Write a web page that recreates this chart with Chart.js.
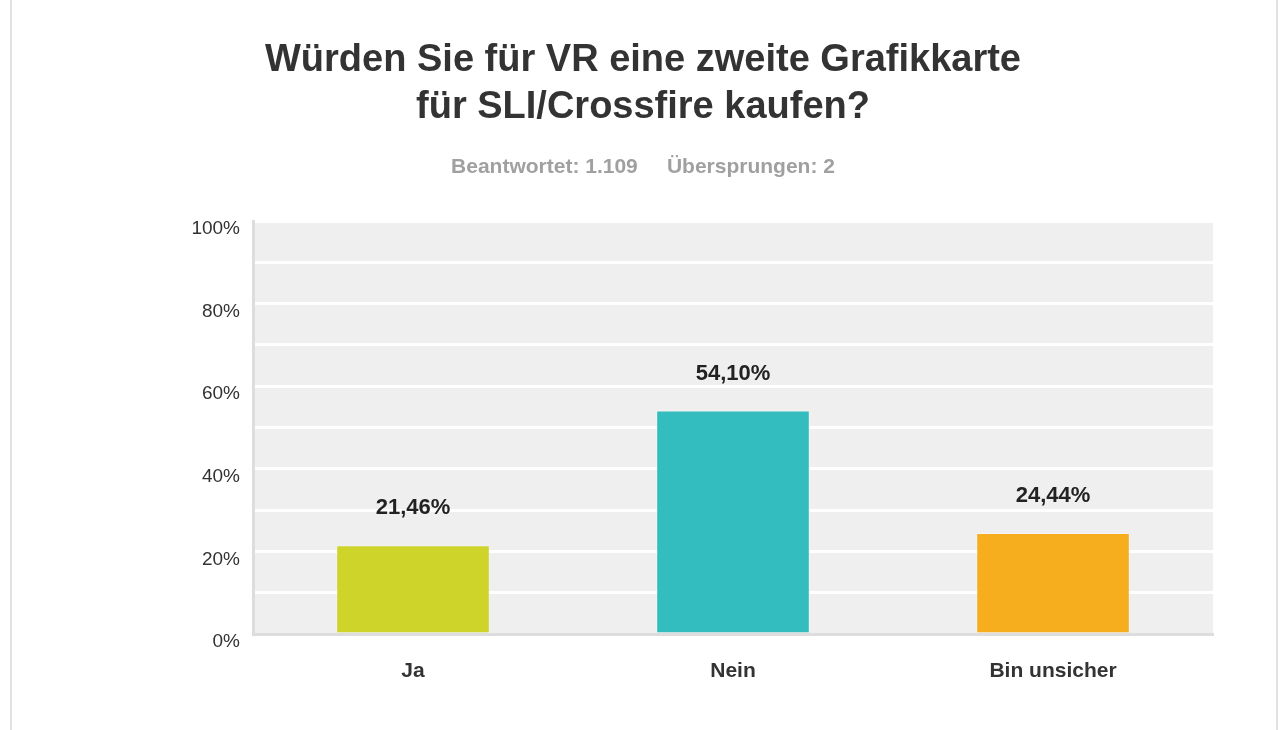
<!DOCTYPE html>
<html>
<head>
<meta charset="utf-8">
<script src="https://cdn.jsdelivr.net/npm/chart.js@4.4.1/dist/chart.umd.min.js"></script>
<style>
    body { margin: 0; background: #fff; }
    #wrap { position: relative; width: 1280px; height: 730px; }
    .edge { position: absolute; top: 0; width: 2px; height: 730px; background: #e2e2e2; }
</style>
</head>
<body>
<div id="wrap">
    <canvas id="umfrageChart" width="1280" height="730"></canvas>
    <div class="edge" style="left:10px"></div>
    <div class="edge" style="left:1276px"></div>
</div>
<script>
// Daten aus der Umfrage
var kategorien = ["Ja", "Nein", "Bin unsicher"];
var prozente = [21.46, 54.10, 24.44];
var farben = ["#CED42A", "#34BDBF", "#F6AE1F"];
var titelZeilen = ["Würden Sie für VR eine zweite Grafikkarte", "für SLI/Crossfire kaufen?"];
var untertitel = "Beantwortet: 1.109     Übersprungen: 2";

var schrift = "'Liberation Sans', Arial, sans-serif";

// grauer Hintergrund der Zeichenfläche
var hintergrundPlugin = {
    id: "hintergrund",
    beforeDraw: function (chart) {
        var a = chart.chartArea;
        var ctx = chart.ctx;
        ctx.save();
        ctx.fillStyle = "#EFEFEF";
        ctx.fillRect(a.left, a.top, a.right - a.left, a.bottom - a.top);
        ctx.restore();
    },
};

// Prozentwerte über den Balken
var wertePlugin = {
    id: "werte",
    afterDatasetsDraw: function (chart) {
        var ctx = chart.ctx;
        var meta = chart.getDatasetMeta(0);
        ctx.save();
        ctx.font = "bold 22px " + schrift;
        ctx.fillStyle = "#222";
        ctx.textAlign = "center";
        ctx.textBaseline = "middle";
        meta.data.forEach(function (bar, i) {
            var text = prozente[i].toFixed(2).replace(".", ",") + "%";
            ctx.fillText(text, bar.x, bar.y - 37);
        });
        ctx.restore();
    },
};

var ctx = document.getElementById("umfrageChart").getContext("2d");
new Chart(ctx, {
    type: "bar",
    data: {
        labels: kategorien,
        datasets: [
            {
                data: prozente,
                backgroundColor: farben,
                borderColor: "rgba(255,255,255,0.35)",
                borderWidth: 1,
                barPercentage: 0.48,
                categoryPercentage: 1,
            },
        ],
    },
    options: {
        responsive: false,
        animation: false,
        layout: { padding: { left: 73, right: 67, top: 0, bottom: 0 } },
        plugins: {
            legend: { display: false },
            tooltip: { enabled: false },
            title: {
                display: true,
                text: titelZeilen,
                color: "#333",
                font: { family: schrift, size: 38, weight: "bold", lineHeight: "47px" },
                padding: { top: 37, bottom: 24 },
            },
            subtitle: {
                display: true,
                text: untertitel,
                color: "#A0A0A0",
                font: { family: schrift, size: 21, weight: "bold", lineHeight: "24px" },
                padding: { top: 0, bottom: 42 },
            },
        },
        scales: {
            x: {
                grid: { display: false },
                border: { color: "#DDDDDD", width: 3 },
                ticks: {
                    color: "#333",
                    padding: 17,
                    font: { family: schrift, size: 21, weight: "bold" },
                },
                afterFit: function (scale) {
                    scale.height = 96;
                },
            },
            y: {
                min: 0,
                max: 100,
                grid: { color: "#FFFFFF", lineWidth: 3, drawTicks: false },
                border: { color: "#DDDDDD", width: 3 },
                ticks: {
                    stepSize: 10,
                    color: "#333",
                    padding: 13,
                    labelOffset: 8,
                    font: { family: schrift, size: 19 },
                    callback: function (v) {
                        return v % 20 === 0 ? v + "%" : "";
                    },
                },
                afterFit: function (scale) {
                    scale.width = 180;
                },
            },
        },
    },
    plugins: [hintergrundPlugin, wertePlugin],
});
</script>
</body>
</html>
